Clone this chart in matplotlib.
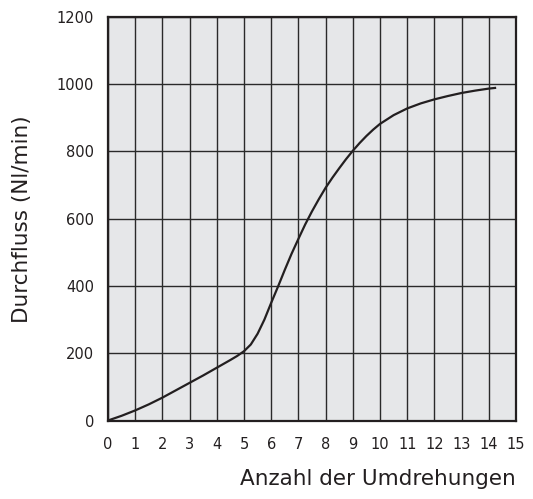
import matplotlib.pyplot as plt

# Durchflusskurve
umdrehungen = [0, 0.5, 1, 1.5, 2, 2.5, 3, 3.5, 4, 4.5, 4.75, 5, 5.25, 5.5, 5.75,
               6, 6.25, 6.5, 6.75, 7, 7.25, 7.5, 7.75, 8, 8.25, 8.5, 8.75, 9,
               9.25, 9.5, 9.75, 10, 10.5, 11, 11.5, 12, 12.5, 13, 13.5, 14, 14.23]
durchfluss = [0, 14, 30, 48, 68, 90, 112, 134, 157, 180, 192, 206, 226, 258, 300,
              350, 398, 448, 496, 540, 583, 622, 658, 692, 722, 750, 777, 802,
              825, 846, 865, 882, 908, 928, 943, 955, 965, 974, 981, 987, 989]

x_ticks = list(range(0, 16))
y_ticks = [0, 200, 400, 600, 800, 1000, 1200]

fig = plt.figure(figsize=(5.33, 4.99), dpi=100)
ax = fig.add_axes([0.2026, 0.1573, 0.7655, 0.8087])
ax.set_facecolor("#e6e7e9")

ax.plot(umdrehungen, durchfluss, color="#231f20", lw=1.6, zorder=3,
        solid_joinstyle="round")

ax.set_xlim(0, 15)
ax.set_ylim(0, 1200)
ax.set_xticks(x_ticks)
ax.set_yticks(y_ticks)
ax.grid(True, color="#2a2a2a", lw=1.0, zorder=1)
ax.set_axisbelow(True)
ax.tick_params(length=0, labelsize=10.5, colors="#231f20", pad=12)
ax.tick_params(axis="y", pad=10)
for s in ax.spines.values():
    s.set_color("#231f20")
    s.set_linewidth(1.6)

ax.set_xlabel("Anzahl der Umdrehungen", fontsize=15.5, color="#231f20", loc="right", labelpad=12)
ax.set_ylabel("Durchfluss (Nl/min)", fontsize=15.5, color="#231f20", labelpad=18)

fig.savefig("out.png", dpi=100)
